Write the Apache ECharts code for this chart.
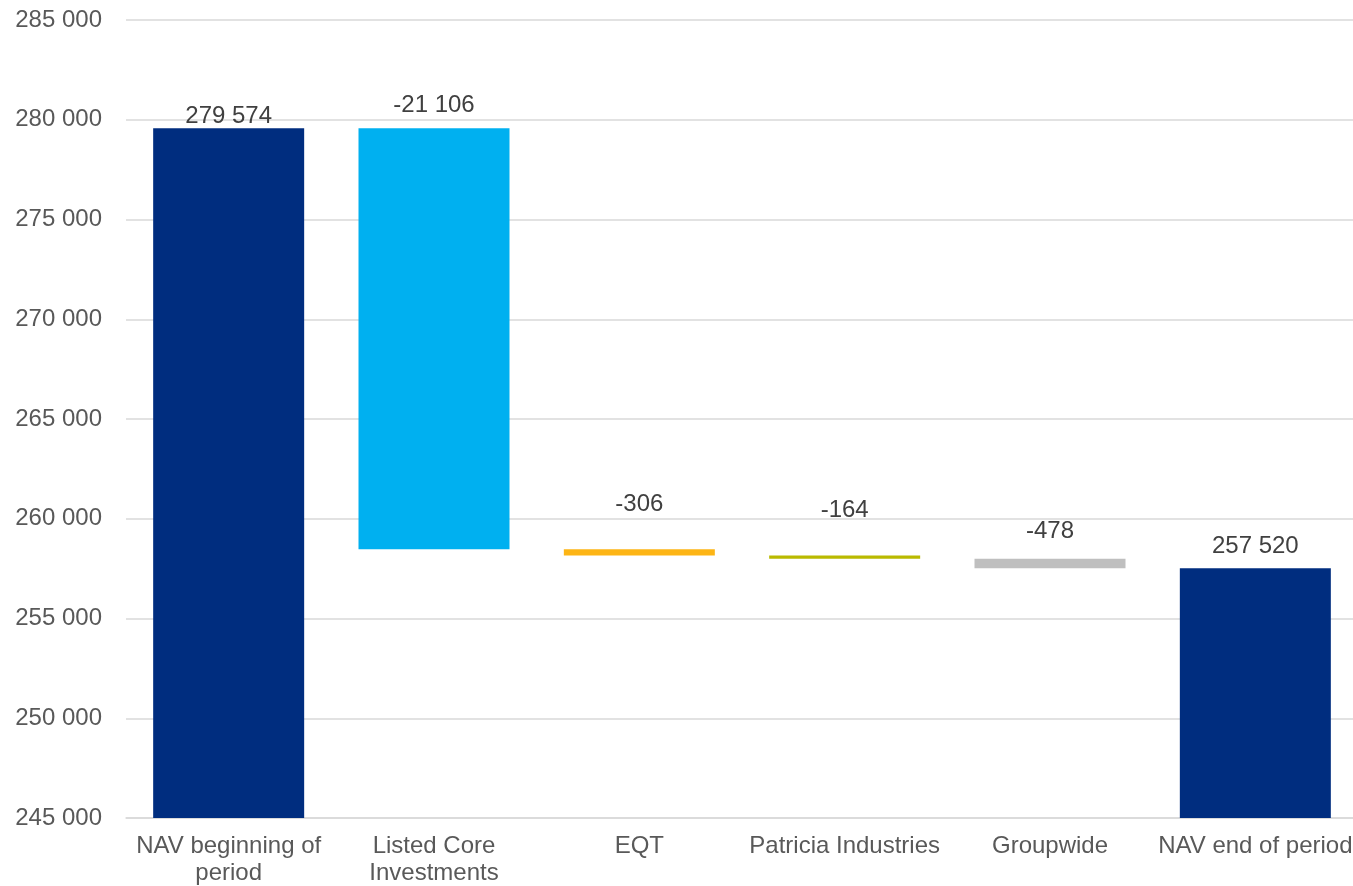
<!DOCTYPE html>
<html>
<head>
<meta charset="utf-8">
<script src="https://cdn.jsdelivr.net/npm/echarts@6/dist/echarts.min.js"></script>
<style>html,body{margin:0;padding:0;background:#fff}#c{width:1353px;height:886px}</style>
</head>
<body>
<div id="c"></div>
<script>
const categories = ['NAV beginning of\nperiod', 'Listed Core\nInvestments', 'EQT', 'Patricia Industries', 'Groupwide', 'NAV end of period'];
const values = [279574, -21106, -306, -164, -478, 257520];
const isTotal = [true, false, false, false, false, true];
const barColors = ['#002D7F', '#00B0F0', '#FDB515', '#BABA00', '#BFBFBF', '#002D7F'];
const yTicks = { min: 245000, max: 285000, interval: 5000 };

// build waterfall bases / heights from the values
const base = [], height = [];
let running = 0;
values.forEach((v, i) => {
  if (isTotal[i]) { base.push(0); height.push(v); running = v; }
  else { const next = running + v; base.push(Math.min(running, next)); height.push(Math.abs(v)); running = next; }
});

const labelLift = [2, -9, -31, -31, -13, -8];
const fmt = n => { const s = Math.abs(n).toString().replace(/\B(?=(\d{3})+(?!\d))/g, ' '); return (n < 0 ? '-' : '') + s; };

const chart = echarts.init(document.getElementById('c'), null, { renderer: 'canvas' });
chart.setOption({
  animation: false,
  grid: { left: 126, width: 1232, top: 20, height: 798, containLabel: false, outerBoundsMode: 'none' },
  xAxis: {
    type: 'category', data: categories,
    axisLine: { lineStyle: { color: '#D9D9D9', width: 1.5 } },
    axisTick: { show: false },
    axisLabel: { color: '#595959', fontFamily: 'Liberation Sans, Arial', fontSize: 24, lineHeight: 27, margin: 15, interval: 0 }
  },
  yAxis: {
    type: 'value', min: yTicks.min, max: yTicks.max, interval: yTicks.interval,
    axisLine: { show: false }, axisTick: { show: false },
    splitLine: { lineStyle: { color: '#D9D9D9', width: 1.5 } },
    axisLabel: { color: '#595959', fontFamily: 'Liberation Sans, Arial', fontSize: 24, margin: 24, formatter: v => fmt(v) }
  },
  series: [
    { type: 'bar', stack: 'w', data: base, itemStyle: { color: 'transparent' }, barWidth: 151, silent: true },
    {
      type: 'bar', stack: 'w', barWidth: 151,
      data: height.map((h, i) => ({
        value: h,
        itemStyle: { color: barColors[i] },
        label: { show: true, position: 'top', distance: 2, offset: [0, labelLift[i]], formatter: () => fmt(values[i]) }
      })),
      label: { color: '#404040', fontFamily: 'Liberation Sans, Arial', fontSize: 24 }
    }
  ]
});
</script>
</body>
</html>
